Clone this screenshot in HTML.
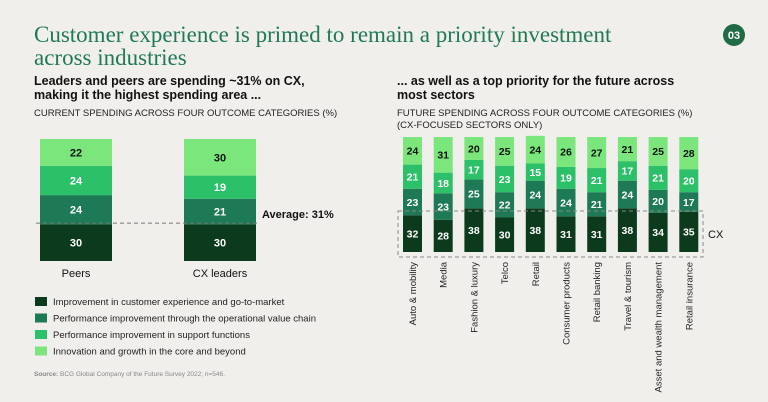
<!DOCTYPE html>
<html><head><meta charset="utf-8"><style>
body{margin:0;background:#f1efec;}
svg{display:block;font-family:"Liberation Sans",sans-serif;}
</style></head><body>
<svg id="c" width="768" height="402" viewBox="0 0 768 402">
<rect width="768" height="402" fill="#f1efec"/>
<text x="34" y="42" font-family="Liberation Serif,serif" font-size="23" fill="#1f7a52">Customer experience is primed to remain a priority investment</text>
<text x="34" y="65" font-family="Liberation Serif,serif" font-size="23" fill="#1f7a52">across industries</text>
<circle cx="734" cy="35" r="11" fill="#1f6b45"/>
<text x="734" y="39" text-anchor="middle" font-size="11" font-weight="bold" fill="#fff">03</text>
<text x="34" y="85" font-size="12.5" font-weight="bold" fill="#111">Leaders and peers are spending ~31% on CX,</text>
<text x="34" y="99" font-size="12.5" font-weight="bold" fill="#111">making it the highest spending area ...</text>
<text x="34" y="116" font-size="9.5" fill="#222">CURRENT SPENDING ACROSS FOUR OUTCOME CATEGORIES (%)</text>
<text x="397" y="85" font-size="12.5" font-weight="bold" fill="#111">... as well as a top priority for the future across</text>
<text x="397" y="99" font-size="12.5" font-weight="bold" fill="#111">most sectors</text>
<text x="397" y="116" font-size="9.5" fill="#222">FUTURE SPENDING ACROSS FOUR OUTCOME CATEGORIES (%)</text>
<text x="397" y="128" font-size="9.5" fill="#222">(CX-FOCUSED SECTORS ONLY)</text>
<g id="left"></g>
<g id="right"></g>
<g id="legend"></g>
<text x="34" y="376" font-size="6.5" fill="#888"><tspan font-weight="bold">Source:</tspan> BCG Global Company of the Future Survey 2022; n=546.</text>
</svg>
<script>
const colors=["#0c3a1d","#1d7a55","#2cc068","#7ae67c"];
const textColors=["#fff","#fff","#fff","#111"];
const legendLabels=["Improvement in customer experience and go-to-market","Performance improvement through the operational value chain","Performance improvement in support functions","Innovation and growth in the core and beyond"];
const leftCats=["Peers","CX leaders"];
const leftCX=[30,30];
const leftOps=[24,21];
const leftSupport=[24,19];
const leftInnov=[22,30];
const rightCats=["Auto & mobility","Media","Fashion & luxury","Telco","Retail","Consumer products","Retail banking","Travel & tourism","Asset and wealth management","Retail insurance"];
const rightCX=[32,28,38,30,38,31,31,38,34,35];
const rightOps=[23,23,25,22,24,24,21,24,20,17];
const rightSupport=[21,18,17,23,15,19,21,17,21,20];
const rightInnov=[24,31,20,25,24,26,27,21,25,28];
const avgValue=31;
const NS="http://www.w3.org/2000/svg";
function mk(p,t,a){const e=document.createElementNS(NS,t);for(const k in a)e.setAttribute(k,a[k]);p.appendChild(e);return e;}
function yL(v){return 261-v*1.22;}
function xL(i){return 40+i*144;}
function yR(v){return 252-v*1.15;}
function xR(i){return 403+i*30.7;}
function drawStack(g,series,i,x,w,ys,fs,prefix){
  let acc=0;
  series.forEach((s,k)=>{
    const v=s[i];const y0=ys(acc),y1=ys(acc+v);
    const r=mk(g,'rect',{x:x,y:y1,width:w,height:y0-y1,fill:colors[k]});
    
    
    const t=mk(g,'text',{x:x+w/2,y:(y0+y1)/2+fs*0.36,'text-anchor':'middle','font-size':fs,'font-weight':'bold',fill:textColors[k]});
    t.textContent=v;
    
    
    acc+=v;
  });
}
const L=document.getElementById('left');
const lser=[leftCX,leftOps,leftSupport,leftInnov];
leftCats.forEach((c,i)=>{
  drawStack(L,lser,i,xL(i),72,yL,11,'left-bar-'+i);
  const t=mk(L,'text',{x:xL(i)+36,y:277,'text-anchor':'middle','font-size':11,fill:'#111'});
  t.textContent=c;
  
  
});
const al=mk(L,'line',{x1:36,x2:258,y1:yL(avgValue),y2:yL(avgValue),stroke:'#777','stroke-dasharray':'4 3','stroke-width':1});


const at=mk(L,'text',{x:262,y:yL(avgValue)-5,'font-size':11,'font-weight':'bold',fill:'#111'});
at.textContent='Average: '+avgValue+'%';


const R=document.getElementById('right');
const rser=[rightCX,rightOps,rightSupport,rightInnov];
rightCats.forEach((c,i)=>{
  drawStack(R,rser,i,xR(i),19,yR,10.5,'right-bar-'+i);
  const cx=xR(i)+9.5;
  const t=mk(R,'text',{x:0,y:0,'text-anchor':'end','font-size':9.5,fill:'#222',transform:'translate('+(cx+3.5)+',262) rotate(-90)'});
  t.textContent=c;
  
  
});
const box=mk(R,'rect',{x:398,y:211,width:305,height:46,fill:'none',stroke:'#888','stroke-dasharray':'4 3','stroke-width':1});


const cxl=mk(R,'text',{x:708,y:238,'font-size':11,fill:'#111'});
cxl.textContent='CX';


const G=document.getElementById('legend');
legendLabels.forEach((l,k)=>{
  const y=297+k*16.5;
  const r=mk(G,'rect',{x:35,y:y,width:12,height:9,fill:colors[k]});
  
  
  const t=mk(G,'text',{x:53,y:y+8,'font-size':9.5,fill:'#222'});
  t.textContent=l;
  
  
});
</script>
</body></html>
